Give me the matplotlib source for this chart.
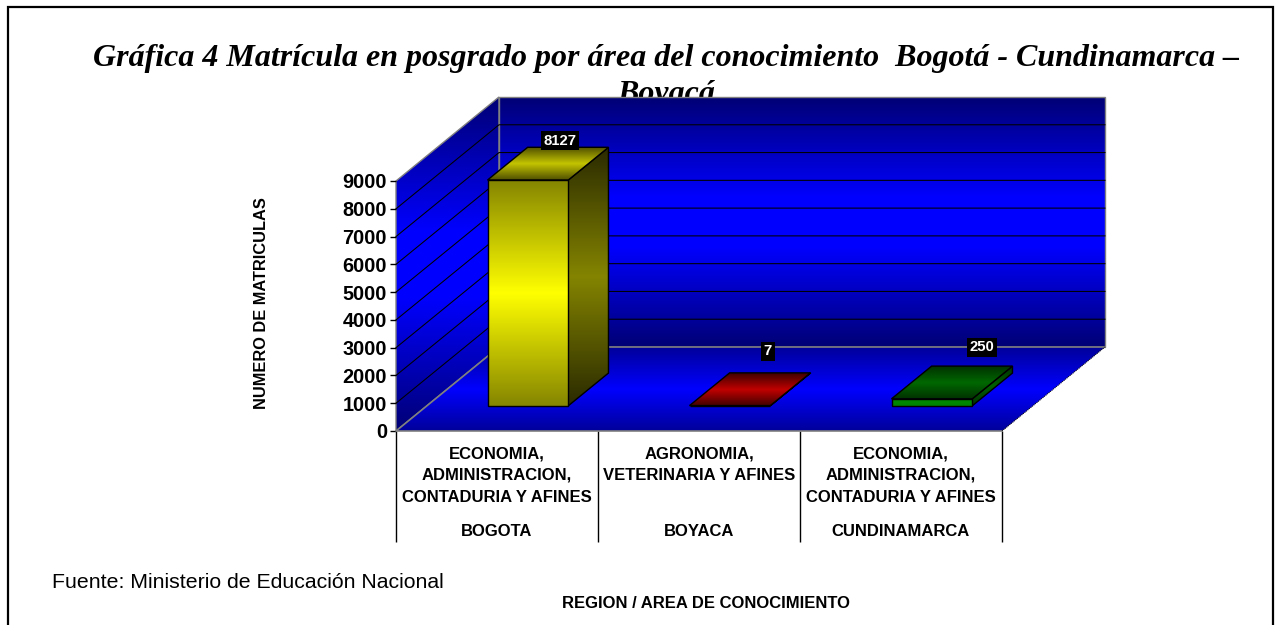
import numpy as np
import matplotlib
matplotlib.use("Agg")
import matplotlib.pyplot as plt
from matplotlib.patches import Polygon, Rectangle
from matplotlib.colors import LinearSegmentedColormap

# ---- data ----
regions = ["BOGOTA", "BOYACA", "CUNDINAMARCA"]
areas = ["ECONOMIA,\nADMINISTRACION,\nCONTADURIA Y AFINES",
         "AGRONOMIA,\nVETERINARIA Y AFINES",
         "ECONOMIA,\nADMINISTRACION,\nCONTADURIA Y AFINES"]
matriculas = [8127, 7, 250]
y_ticks = [0, 1000, 2000, 3000, 4000, 5000, 6000, 7000, 8000, 9000]
title_text = "Gráfica 4 Matrícula en posgrado por área del conocimiento  Bogotá - Cundinamarca –\nBoyacá"
y_title = "NUMERO DE MATRICULAS"
x_title = "REGION / AREA DE CONOCIMIENTO"
source_text = "Fuente: Ministerio de Educación Nacional"

# ---- style / layout ----
W, H = 1281, 625
PL, PR, PB, PT = 396, 1002, 431, 181     # front plane in pixels
DEPTH_X = 103 / ((PR - PL) / 3)          # categories per unit depth
DEPTH_Y = 84 / ((PB - PT) / 9000)        # value units per unit depth
BAR_W, D0, D1 = 0.4, 0.3, 0.69
SANS = "Liberation Sans"
SERIF = "Liberation Serif"
label_offsets = [(12, -23), (18, -38), (30, -35)]  # px from the top centre of each bar
divider_colors = ["black", "black", "#707070", "#707070"]

bar_styles = [
    dict(front=("#858500", "#ffff00"), top=("#4f4f00", "#c4c400"), side=("#2a2a00", "#848400")),
    dict(front=("#700000", "#c00000"), top=("#3f0000", "#c00000"), side=("#400000", "#800000")),
    dict(front=("#008000", "#008800"), top=("#003000", "#006800"), side=("#003000", "#006000")),
]


def proj(c, v, d=0.0):
    return c + d * DEPTH_X, v + d * DEPTH_Y


fig = plt.figure(figsize=(W / 100, H / 100), dpi=100)
ax = fig.add_axes([PL / W, 1 - PB / H, (PR - PL) / W, (PB - PT) / H])
ax.patch.set_alpha(0)
for s in ax.spines.values():
    s.set_visible(False)
ax.set_xlim(0, 3)
ax.set_ylim(0, 9000)


def shaded(points, dark, bright, z, edge="black", lw=1.0, plateau=0.0):
    stops = [(0, dark), (0.5 - plateau, bright), (0.5 + plateau, bright), (1, dark)]
    cmap = LinearSegmentedColormap.from_list("g", stops)
    pts = np.array(points)
    ys = np.linspace(0, 1, 256).reshape(-1, 1)
    ext = (pts[:, 0].min(), pts[:, 0].max(), pts[:, 1].min(), pts[:, 1].max())
    if ext[3] - ext[2] < 1e-6:
        return
    im = ax.imshow(ys, cmap=cmap, extent=ext, origin="lower", aspect="auto",
                   zorder=z, interpolation="bilinear")
    clip = Polygon(points, closed=True, transform=ax.transData)
    im.set_clip_path(clip)
    im.set_clip_box(fig.bbox)
    if edge is not None:
        ax.add_patch(Polygon(points, closed=True, fill=False, ec=edge, lw=lw,
                             zorder=z + 0.1, clip_on=False))


ymax = y_ticks[-1]
n = len(regions)
wall_dark, floor_dark, wall_bright = "#000075", "#00009a", "#0000ff"
GREY = "#808080"

# walls and floor
shaded([proj(0, 0, 1), proj(n, 0, 1), proj(n, ymax, 1), proj(0, ymax, 1)], wall_dark, wall_bright, 1, GREY, plateau=0.1)
shaded([proj(0, 0), proj(0, 0, 1), proj(0, ymax, 1), proj(0, ymax)], wall_dark, wall_bright, 1, GREY, plateau=0.1)
shaded([proj(0, 0), proj(n, 0), proj(n, 0, 1), proj(0, 0, 1)], floor_dark, wall_bright, 2, None)

# gridlines
for t in y_ticks[1:-1]:
    xs, ys = zip(proj(0, t), proj(0, t, 1), proj(n, t, 1))
    ax.plot(xs, ys, color="black", lw=0.75, zorder=1.5, clip_on=False)

# floor outline
xs, ys = zip(proj(0, 0, 1), proj(0, 0), proj(n, 0))
ax.plot(xs, ys, color=GREY, lw=1.2, zorder=2.5, clip_on=False)
xs, ys = zip(proj(0, 0, 1), proj(n, 0, 1))
ax.plot(xs, ys, color=GREY, lw=1.2, zorder=2.5, clip_on=False)
xs, ys = zip(proj(n, 0), proj(n, 0, 1))
ax.plot(xs, ys, color="black", lw=0.7, ls=(0, (1, 1)), zorder=2.5, clip_on=False)

# bars
for i, (val, st) in enumerate(zip(matriculas, bar_styles)):
    a, b = i + 0.5 - BAR_W / 2, i + 0.5 + BAR_W / 2
    z = 3 + i
    shaded([proj(b, 0, D0), proj(b, 0, D1), proj(b, val, D1), proj(b, val, D0)], *st["side"], z)
    shaded([proj(a, val, D0), proj(b, val, D0), proj(b, val, D1), proj(a, val, D1)], *st["top"], z + 0.2)
    shaded([proj(a, 0, D0), proj(b, 0, D0), proj(b, val, D0), proj(a, val, D0)], *st["front"], z + 0.4)
    cx, cy = proj(i + 0.5, val, (D0 + D1) / 2)
    off = label_offsets[i]
    ax.annotate(str(val), (cx, cy), xytext=(off[0] * 0.72, -off[1] * 0.72), textcoords="offset points",
                ha="center", va="center", color="white", fontsize=10.7, fontweight="bold", family=SANS,
                bbox=dict(fc="black", ec="none", pad=1.8), zorder=20, annotation_clip=False)

# y axis
ax.set_yticks(y_ticks)
ax.set_yticklabels([str(t) for t in y_ticks], family=SANS, fontweight="bold", fontsize=14.3)
ax.tick_params(axis="y", length=4.5, width=1, color="black", pad=2)
ax.set_xticks(range(n + 1))
ax.set_xticklabels([])
ax.tick_params(axis="x", length=111 * 0.72, width=1)
for tick, c in zip(ax.xaxis.get_major_ticks(), divider_colors):
    tick.tick1line.set_color(c)
    tick.tick1line.set_zorder(1)

# multi-level category labels
trans = ax.get_xaxis_transform()
for i in range(n):
    ax.annotate(areas[i], (i + 0.5, 0), xycoords=trans, xytext=(0, -11), textcoords="offset points",
                ha="center", va="top", fontsize=12, fontweight="bold", family=SANS, linespacing=1.56,
                annotation_clip=False)
    ax.annotate(regions[i], (i + 0.5, 0), xycoords=trans, xytext=(0, -67), textcoords="offset points",
                ha="center", va="top", fontsize=12, fontweight="bold", family=SANS,
                annotation_clip=False)

fig.text(262 / W, 1 - 303 / H, y_title, rotation=90, ha="center", va="center",
         fontsize=11.8, fontweight="bold", family=SANS)
fig.text(706 / W, 1 - 603 / H, x_title, ha="center", va="center",
         fontsize=12, fontweight="bold", family=SANS)
fig.text(52 / W, 1 - 582 / H, source_text, ha="left", va="center", fontsize=15.3, family=SANS)
ttl = fig.text(666 / W, 1 - 44 / H, title_text, ha="center", va="top", fontsize=23,
               family=SERIF, fontweight="bold", style="italic", linespacing=1.3)
ttl.set_zorder(-1)
fig.add_artist(Rectangle((8 / W, -0.02), (1273 - 8) / W, 1.02 - 7 / H, fill=False, ec="black",
                         lw=1.6, transform=fig.transFigure))

fig.savefig("out.png", dpi=100)
